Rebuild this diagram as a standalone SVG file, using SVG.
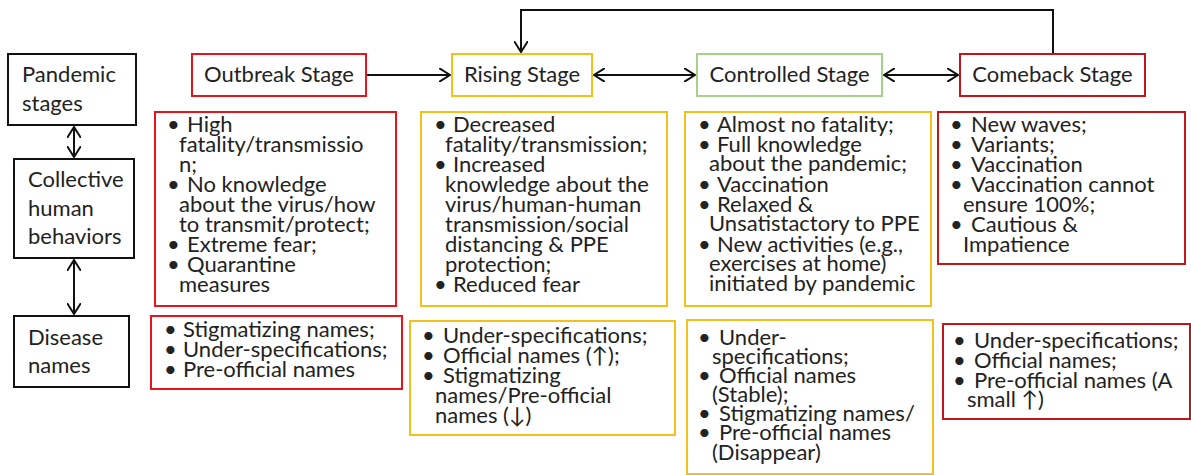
<svg xmlns="http://www.w3.org/2000/svg" width="1191" height="475" viewBox="0 0 1191 475">
<defs>
<style>
text{font-family:Lato,"Liberation Sans",sans-serif;font-size:22px;fill:#222}
.b{fill:#fff;stroke-width:2}
.k{stroke:#111}
.r{stroke:#e8141c}
.dr{stroke:#c0161c}
.y{stroke:#f5c01a}
.g{stroke:#a8d08d}
.c{fill:none;stroke:#111;stroke-width:2}
.m{text-anchor:middle}
</style>
<marker id="ah" viewBox="0 0 12 14" refX="11" refY="7" markerWidth="12" markerHeight="14" markerUnits="userSpaceOnUse" orient="auto-start-reverse">
<path d="M0,0 L11,7 L0,14" fill="none" stroke="#111" stroke-width="2"/>
</marker>
</defs>
<rect width="1191" height="475" fill="#fff"/>

<g id="connectors">
<line class="c" x1="74" y1="127" x2="74" y2="157" marker-start="url(#ah)" marker-end="url(#ah)"/>
<line class="c" x1="74" y1="260" x2="74" y2="314" marker-start="url(#ah)" marker-end="url(#ah)"/>
<line class="c" x1="367" y1="75" x2="450" y2="75" marker-end="url(#ah)"/>
<line class="c" x1="594" y1="75" x2="695" y2="75" marker-start="url(#ah)" marker-end="url(#ah)"/>
<line class="c" x1="884" y1="75" x2="958" y2="75" marker-start="url(#ah)" marker-end="url(#ah)"/>
<polyline class="c" points="1053,54 1053,10 521,10 521,52" marker-end="url(#ah)"/>
</g>

<g id="pandemic-stages">
<rect class="b k" x="8" y="54" width="128" height="71"/>
<text x="22" y="82">Pandemic<tspan x="22" y="111">stages</tspan></text>
</g>
<g id="collective-behaviors">
<rect class="b k" x="14" y="159" width="120" height="99"/>
<text x="28" y="187">Collective<tspan x="28" y="216">human</tspan><tspan x="28" y="244">behaviors</tspan></text>
</g>
<g id="disease-names">
<rect class="b k" x="14" y="316" width="115" height="71"/>
<text x="28" y="345">Disease<tspan x="28" y="373">names</tspan></text>
</g>

<g id="outbreak-stage">
<rect class="b r" x="192" y="54" width="174" height="42"/>
<text class="m" x="279" y="82">Outbreak Stage</text>
</g>
<g id="rising-stage">
<rect class="b y" x="452" y="54" width="140" height="42"/>
<text class="m" x="522" y="82">Rising Stage</text>
</g>
<g id="controlled-stage">
<rect class="b g" x="697" y="54" width="185" height="42"/>
<text class="m" x="789.5" y="82">Controlled Stage</text>
</g>
<g id="comeback-stage">
<rect class="b dr" x="960" y="54" width="185" height="42"/>
<text class="m" x="1052.5" y="82">Comeback Stage</text>
</g>

<g id="outbreak-behaviors">
<rect class="b r" x="155" y="112" width="241" height="194"/>
<text x="167" y="132">•<tspan x="187">High</tspan><tspan x="179" y="152">fatality/transmissio</tspan><tspan x="179" y="172">n;</tspan><tspan x="167" y="192">•</tspan><tspan x="187">No knowledge</tspan><tspan x="179" y="212">about the virus/how</tspan><tspan x="179" y="232">to transmit/protect;</tspan><tspan x="167" y="252">•</tspan><tspan x="187">Extreme fear;</tspan><tspan x="167" y="272">•</tspan><tspan x="187">Quarantine</tspan><tspan x="179" y="292">measures</tspan></text>
</g>
<g id="rising-behaviors">
<rect class="b y" x="421" y="112" width="246" height="194"/>
<text x="434" y="132">•<tspan x="453">Decreased</tspan><tspan x="445" y="152">fatality/transmission;</tspan><tspan x="434" y="172">•</tspan><tspan x="453">Increased</tspan><tspan x="445" y="192">knowledge about the</tspan><tspan x="445" y="212">virus/human-human</tspan><tspan x="445" y="232">transmission/social</tspan><tspan x="445" y="252">distancing &amp; PPE</tspan><tspan x="445" y="272">protection;</tspan><tspan x="434" y="292">•</tspan><tspan x="453">Reduced fear</tspan></text>
</g>
<g id="controlled-behaviors">
<rect class="b y" x="685" y="112" width="246" height="194"/>
<text x="698" y="132">•<tspan x="717">Almost no fatality;</tspan><tspan x="698" y="152">•</tspan><tspan x="717">Full knowledge</tspan><tspan x="709" y="171">about the pandemic;</tspan><tspan x="698" y="192">•</tspan><tspan x="717">Vaccination</tspan><tspan x="698" y="212">•</tspan><tspan x="717">Relaxed &amp;</tspan><tspan x="709" y="231">Unsatistactory to PPE</tspan><tspan x="698" y="252">•</tspan><tspan x="717">New activities (e.g.,</tspan><tspan x="709" y="271">exercises at home)</tspan><tspan x="709" y="291">initiated by pandemic</tspan></text>
</g>
<g id="comeback-behaviors">
<rect class="b dr" x="938" y="112" width="247" height="152"/>
<text x="950" y="132">•<tspan x="971">New waves;</tspan><tspan x="950" y="152">•</tspan><tspan x="971">Variants;</tspan><tspan x="950" y="172">•</tspan><tspan x="971">Vaccination</tspan><tspan x="950" y="192">•</tspan><tspan x="971">Vaccination cannot</tspan><tspan x="963" y="212">ensure 100%;</tspan><tspan x="950" y="232">•</tspan><tspan x="971">Cautious &amp;</tspan><tspan x="963" y="252">Impatience</tspan></text>
</g>

<g id="outbreak-names">
<rect class="b r" x="151" y="316" width="251" height="73"/>
<text x="164" y="337">•<tspan x="183">Stigmatizing names;</tspan><tspan x="164" y="357">•</tspan><tspan x="183">Under-specifications;</tspan><tspan x="164" y="377">•</tspan><tspan x="183">Pre-official names</tspan></text>
</g>
<g id="rising-names">
<rect class="b y" x="410" y="321" width="265" height="114"/>
<text x="422" y="343">•<tspan x="443">Under-specifications;</tspan><tspan x="422" y="363">•</tspan><tspan x="443">Official names (↑);</tspan><tspan x="422" y="383">•</tspan><tspan x="443">Stigmatizing</tspan><tspan x="435" y="403">names/Pre-official</tspan><tspan x="435" y="423">names (↓)</tspan></text>
</g>
<g id="controlled-names">
<rect class="b y" x="687" y="320" width="246" height="154"/>
<text x="698" y="345">•<tspan x="719">Under-</tspan><tspan x="712" y="364">specifications;</tspan><tspan x="698" y="383">•</tspan><tspan x="719">Official names</tspan><tspan x="712" y="402">(Stable);</tspan><tspan x="698" y="421">•</tspan><tspan x="719">Stigmatizing names/</tspan><tspan x="698" y="440">•</tspan><tspan x="719">Pre-official names</tspan><tspan x="712" y="460">(Disappear)</tspan></text>
</g>
<g id="comeback-names">
<rect class="b dr" x="943" y="324" width="247" height="95"/>
<text x="953" y="348">•<tspan x="974">Under-specifications;</tspan><tspan x="953" y="368">•</tspan><tspan x="974">Official names;</tspan><tspan x="953" y="388">•</tspan><tspan x="974">Pre-official names (A</tspan><tspan x="967" y="407">small ↑)</tspan></text>
</g>
</svg>
